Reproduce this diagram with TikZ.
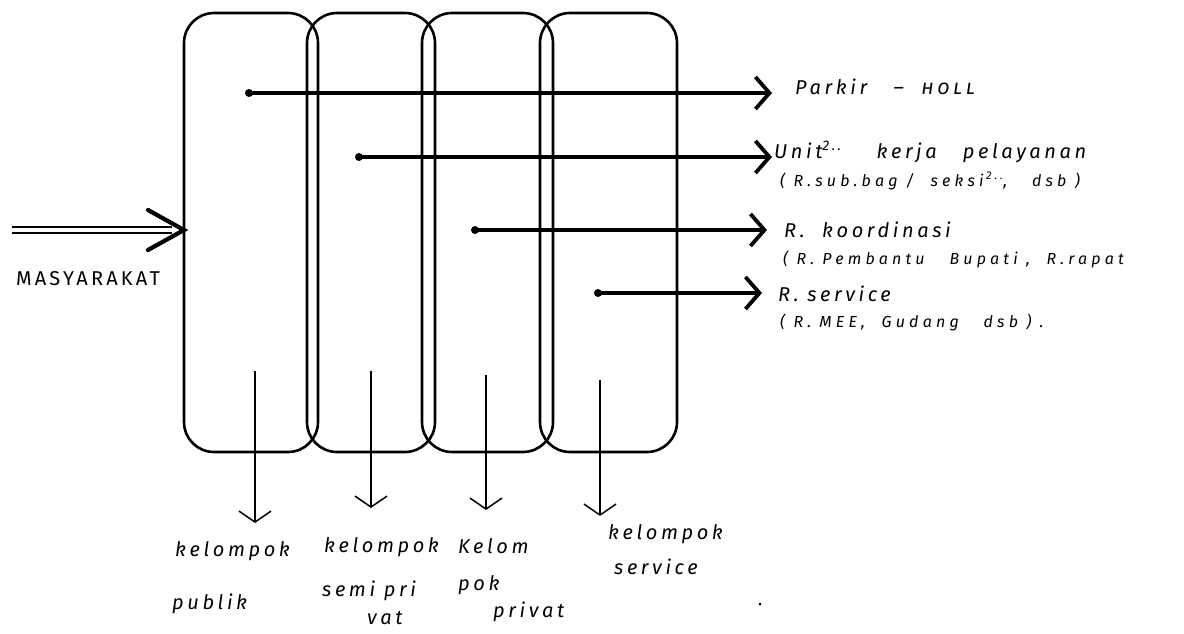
\documentclass[tikz,border=0pt]{standalone}
\usepackage{fontspec}
\setmainfont{Fira Sans}
\newfontfamily\handw{Fira Sans}[LetterSpace=18]
\newfontfamily\smallw{Fira Sans}[LetterSpace=26]
\newfontfamily\masf{Fira Sans}[LetterSpace=16]
\usetikzlibrary{arrows.meta}
\tikzset{
  x=1pt, y=-1pt,
  zone/.style={draw, line width=2.6pt, rounded corners=30pt},
  flow/.style={line width=3.8pt, -{Straight Barb[length=14pt,width=32pt,line width=3.8pt]}},
  drop/.style={line width=1.1pt, -{Straight Barb[length=11pt,width=32pt,line width=1.5pt]}},
  hand/.style={font=\handw\itshape\fontsize{20}{22}\selectfont, anchor=west, inner sep=0pt},
  small/.style={font=\smallw\itshape\fontsize{16}{18}\selectfont, anchor=west, inner sep=0pt},
  dotc/.style={circle, fill, inner sep=0pt, minimum size=8pt}
}
\begin{document}
\begin{tikzpicture}
\useasboundingbox (0,0) rectangle (1184,633);
% four zones
\draw[zone] (184,13) rectangle (318,452);
\draw[zone] (307,13) rectangle (435,452);
\draw[zone] (422,13) rectangle (553,452);
\draw[zone] (540,13) rectangle (677,452);

% horizontal flows
\node[dotc] (d1) at (249,93) {};
\node[dotc] (d2) at (359,157) {};
\node[dotc] (d3) at (475,230) {};
\node[dotc] (d4) at (598,293) {};
\coordinate (e1) at (772,93);
\coordinate (e2) at (772,157);
\coordinate (e3) at (767,230);
\coordinate (e4) at (762,293);
\draw[flow] (d1.center) -- (e1);
\draw[flow] (d2.center) -- (e2);
\draw[flow] (d3.center) -- (e3);
\draw[flow] (d4.center) -- (e4);

\node[hand] (t1) at (795,87) {Parkir \ \ \textendash\ \ \textsc{holl}};
\node[hand] (t2) at (774,152) {Unit\textsuperscript{2..}\ \ \ \ kerja\ \ \ pelayanan};
\node[small] (t2b) at (780,181) {( R.sub.bag / \ seksi\,\textsuperscript{2..}, \ \ dsb )};
\node[hand] (t3) at (784,230) {R. \ koordinasi};
\node[small] (t3b) at (783,259) {( R. Pembantu \ \ Bupati , \ R.rapat};
\node[hand] (t4) at (778,294) {R. service};
\node[small] (t4b) at (780,322) {( R. MEE, \ Gudang \ \ dsb ) .};

% masyarakat input
\coordinate (m0) at (12,230);
\coordinate (m1) at (172,230);
\draw[line width=1.5pt, double, double distance=4.5pt] (m0) -- (m1);
\draw[line width=4.2pt, line cap=round] (148,210) -- (184,230) -- (148,250);
\node[font=\masf\fontsize{20}{22}\selectfont, inner sep=0pt] (mas) at (88,279) {MASYARAKAT};

% down arrows
\coordinate (b1) at (255,523);
\coordinate (b2) at (371,508);
\coordinate (b3) at (486,510);
\coordinate (b4) at (600,516);
\draw[drop] (255,371) -- (b1);
\draw[drop] (371,371) -- (b2);
\draw[drop] (486,375) -- (b3);
\draw[drop] (600,380) -- (b4);

% group labels
\node[hand] (k1) at (175,551) {kelompok};
\node[hand] (k1b) at (172,604) {publik};
\node[hand] (k2) at (324,547) {kelompok};
\node[hand] (k2b) at (322,591) {semi pri};
\node[hand] (k2c) at (367,618) {vat};
\node[hand] (k3) at (458,546) {Kelom};
\node[hand] (k3b) at (458,585) {pok};
\node[hand] (k3c) at (493,612) {privat};
\node[hand] (k4) at (608,534) {kelompok};
\node[hand] (k4b) at (614,567) {service};
\node[dotc, minimum size=3pt] (pt) at (760,604) {};
\end{tikzpicture}
\end{document}
